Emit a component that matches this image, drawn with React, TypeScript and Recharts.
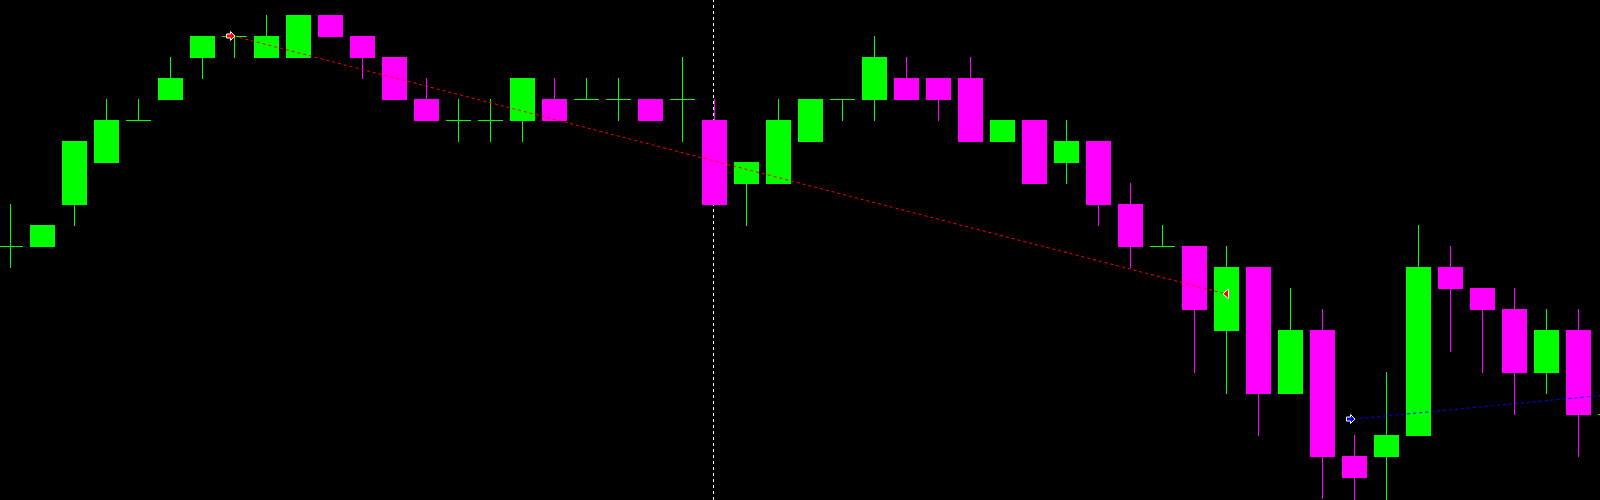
import React from 'react';
import { ComposedChart, Bar, Line, XAxis, YAxis, ReferenceLine } from 'recharts';

const W = 1600;
const H = 500;
const BULL = '#00ff00';
const BEAR = '#ff00ff';

// OHLC values
const opens = [145, 145, 155, 165, 175, 180, 190, 195, 190, 190, 200, 195, 190, 180, 175, 175, 175, 180, 180, 180, 180, 180, 175, 160, 160, 170, 180, 180, 185, 185, 185, 170, 175, 165, 170, 155, 145, 145, 125, 140, 110, 125, 95, 95, 100, 140, 135, 130, 115, 125, 105];
const highs = [155, 150, 170, 180, 180, 190, 195, 195, 200, 200, 200, 195, 190, 185, 180, 180, 185, 185, 185, 185, 180, 190, 180, 165, 180, 180, 180, 195, 190, 185, 190, 175, 175, 175, 170, 160, 150, 145, 145, 140, 135, 130, 100, 115, 150, 145, 135, 135, 130, 130, 110];
const lows = [140, 145, 150, 165, 175, 180, 185, 190, 190, 190, 195, 185, 180, 175, 170, 170, 170, 175, 180, 175, 175, 170, 155, 150, 160, 170, 175, 175, 180, 175, 170, 170, 160, 160, 150, 140, 145, 115, 110, 100, 110, 85, 80, 80, 100, 120, 115, 105, 110, 95, 100];
const closes = [145, 150, 170, 175, 175, 185, 195, 195, 195, 200, 195, 190, 180, 175, 175, 175, 185, 175, 180, 180, 175, 180, 155, 165, 175, 180, 180, 190, 180, 180, 170, 175, 160, 170, 155, 145, 145, 130, 140, 110, 125, 95, 90, 100, 140, 135, 130, 115, 125, 105, 105];

// period separator bar index
const separatorAt = 22;
// trend lines: [bar index, price]
const redTrend = [{ at: 7, price: 195 }, { at: 38, price: 133.6 }];
const blueTrend = [{ at: 42, price: 103.8 }, { at: 50, price: 109.6 }];
const Y_DOMAIN: [number, number] = [84.52, 203.57];

const data = opens.map((o, i) => ({
  i,
  open: o,
  high: highs[i],
  low: lows[i],
  close: closes[i],
  range: [lows[i], highs[i]],
  red: redTrend.find((p) => p.at === i)?.price ?? null,
  blue: blueTrend.find((p) => p.at === i)?.price ?? null,
}));

const Candle = (props: any) => {
  const { x, y, width, height, payload } = props;
  if (x == null || y == null || !payload) return <g />;
  const { open, close, high, low } = payload;
  const top = Math.min(y, y + height);
  const bot = Math.max(y, y + height);
  const k = high > low ? (bot - top) / (high - low) : 0;
  const py = (v: number) => top + (high - v) * k;
  const color = close < open ? BEAR : BULL;
  const cx = Math.floor(x + width / 2) + 0.5;
  const yH = Math.round(top);
  const yL = Math.round(bot);
  const yO = Math.round(py(open));
  const yC = Math.round(py(close));
  const bTop = Math.min(yO, yC);
  const bBot = Math.max(yO, yC);
  const left = Math.round(x);
  const bw = Math.round(width);
  return (
    <g shapeRendering="crispEdges">
      <line x1={cx} x2={cx} y1={yH} y2={yL + 1} stroke={color} strokeWidth={1} />
      {bBot > bTop ? (
        <rect x={left} y={bTop} width={bw} height={bBot - bTop + 1} fill={color} />
      ) : (
        <line x1={left} x2={left + bw} y1={bTop + 0.5} y2={bTop + 0.5} stroke={color} strokeWidth={1} />
      )}
    </g>
  );
};

const arrowRight = (cx: number, cy: number, fill: string, key: string) => {
  const ax = cx - 3;
  const pts = [
    [ax - 4, cy - 2], [ax, cy - 2], [ax, cy - 4.5], [ax + 4.5, cy],
    [ax, cy + 4.5], [ax, cy + 2], [ax - 4, cy + 2],
  ].map((p) => p.join(',')).join(' ');
  return <polygon key={key} points={pts} fill={fill} stroke="#ffffff" strokeWidth={1} />;
};

const triLeft = (cx: number, cy: number, fill: string, key: string) => {
  const pts = [[cx - 2.5, cy], [cx + 3, cy - 5], [cx + 3, cy + 5]].map((p) => p.join(',')).join(' ');
  return <polygon key={key} points={pts} fill={fill} stroke="#ffffff" strokeWidth={1} />;
};

const makeDot = (markers: Record<number, string>, color: string) => (p: any) => {
  const kind = markers[p.index];
  const key = `d-${color}-${p.index}`;
  if (!kind || p.cx == null || p.cy == null) return <g key={key} />;
  if (kind === 'right') return arrowRight(p.cx, p.cy, color, key);
  return triLeft(p.cx, p.cy, color, key);
};

export default function App() {
  return (
    <div style={{ position: 'fixed', left: 0, top: 0, width: W, height: H, background: '#000000', overflow: 'hidden' }}>
      <ComposedChart
        width={W}
        height={H}
        data={data}
        margin={{ top: 0, right: -25.5, bottom: 0, left: -6.5 }}
        barCategoryGap={0}
      >
        <XAxis dataKey="i" type="category" hide />
        <YAxis type="number" hide domain={Y_DOMAIN} allowDataOverflow />
        <ReferenceLine
          x={separatorAt}
          stroke="#ffffff"
          strokeDasharray="3 3"
          strokeWidth={1}
          {...({ zIndex: -10 } as any)}
        />
        <Bar dataKey="range" barSize={25} shape={(p: any) => <Candle {...p} />} isAnimationActive={false} />
        <Line
          dataKey="red"
          stroke="#ff0000"
          strokeWidth={1}
          strokeDasharray="3 3"
          connectNulls
          dot={makeDot({ 7: 'right', 38: 'left' }, '#ff0000')}
          activeDot={false}
          isAnimationActive={false}
        />
        <Line
          dataKey="blue"
          stroke="#0000ff"
          strokeWidth={1}
          strokeDasharray="3 3"
          connectNulls
          dot={makeDot({ 42: 'right' }, '#0000ff')}
          activeDot={false}
          isAnimationActive={false}
        />
      </ComposedChart>
    </div>
  );
}
